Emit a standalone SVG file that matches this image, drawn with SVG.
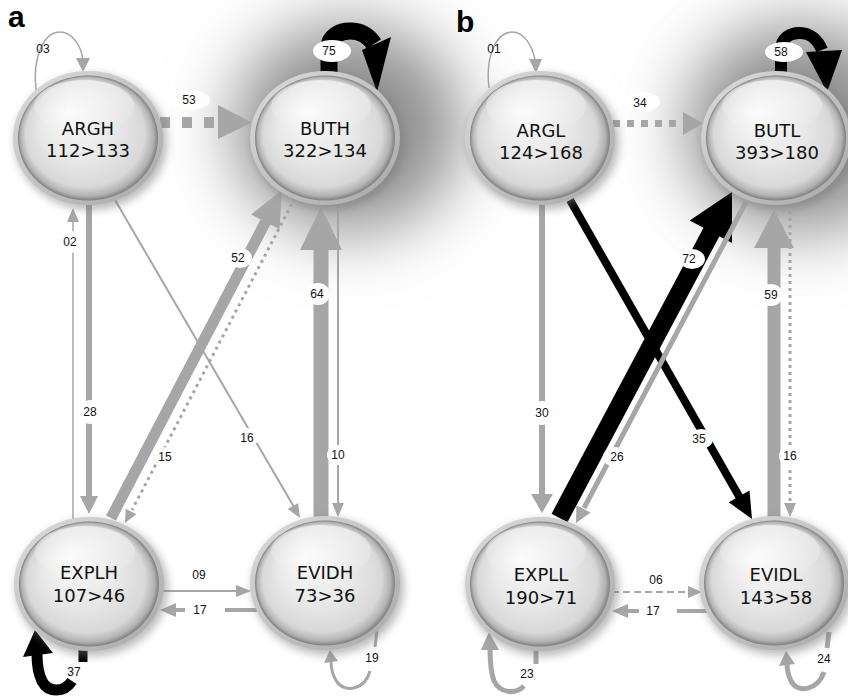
<svg xmlns="http://www.w3.org/2000/svg" width="848" height="696" viewBox="0 0 848 696">
<defs>
<style>
.g{stroke:#a6a6a6;fill:none}
.gf{fill:#a6a6a6}
.k{stroke:#000;fill:none}
.kf{fill:#000}
.bg{fill:#fff}
.lbl{font-family:"Liberation Sans",Arial,sans-serif;font-size:12px;fill:#111;text-anchor:middle}
.nt{font-family:"DejaVu Sans",Verdana,sans-serif;font-size:18px;fill:#111;text-anchor:middle}
.pl{font-family:"Liberation Sans",Arial,sans-serif;font-size:30px;font-weight:bold;fill:#000}
</style>
<filter id="glow" x="-1" y="-1" width="3" height="3"><feGaussianBlur stdDeviation="34"/></filter>
<filter id="sh" x="-0.3" y="-0.3" width="1.6" height="1.6"><feGaussianBlur stdDeviation="4"/></filter>
<linearGradient id="ring" x1="0" y1="0" x2="1" y2="1"><stop offset="0" stop-color="#dcdcdc"/><stop offset="1" stop-color="#a8a8a8"/></linearGradient>
<radialGradient id="body" cx="0.5" cy="0.5" r="0.5" fx="0.36" fy="0.28"><stop offset="0" stop-color="#fbfbfb"/><stop offset="0.55" stop-color="#e8e8e8"/><stop offset="0.85" stop-color="#d8d8d8"/><stop offset="0.95" stop-color="#b2b2b2"/><stop offset="1" stop-color="#7e7e7e"/></radialGradient>
<linearGradient id="hl" x1="0" y1="0" x2="0" y2="1"><stop offset="0" stop-color="#fff" stop-opacity="0.9"/><stop offset="1" stop-color="#fff" stop-opacity="0"/></linearGradient>
<g id="node">
<ellipse cx="3" cy="4" rx="76" ry="68" fill="#777" opacity="0.5" filter="url(#sh)"/>
<ellipse rx="75" ry="67" fill="url(#ring)"/>
<ellipse rx="70" ry="62.5" fill="url(#body)"/>
<ellipse cx="-4" cy="-32" rx="50" ry="26" fill="url(#hl)" opacity="0.6"/>
</g>
</defs>
<rect width="848" height="696" fill="#fff"/>
<g id="glows">
<ellipse cx="348" cy="128" rx="115" ry="105" fill="#8e8e8e" filter="url(#glow)"/>
<ellipse cx="800" cy="128" rx="115" ry="105" fill="#8e8e8e" filter="url(#glow)"/>
</g>
<text class="pl" x="8" y="27">a</text>
<text class="pl" x="456" y="32">b</text>
<g id="connectors">
<g id="e-argh-loop"><path class="g" stroke-width="1.5" d="M36 90 C32 55 45 32 60 32 C72 32 81 45 83 60"/><polygon class="gf" points="76,58 90,58 83,72"/><text class="lbl" x="43" y="53">03</text></g>
<g id="e-argh-buth"><line class="g" x1="160" y1="122.5" x2="218" y2="122.5" stroke-width="11" stroke-dasharray="10 12"/><polygon class="gf" points="218,105 218,139 252,122.5"/><ellipse class="bg" cx="190" cy="100" rx="20" ry="10"/><text class="lbl" x="189" y="104">53</text></g>
<g id="e-buth-loop"><path class="k" stroke-width="17" d="M329 74 L329 48 C329 36 340 31 350 31 C360 31 368 35 374 44"/><polygon class="kf" points="362,50 391,37 377,92"/><ellipse class="bg" cx="332" cy="51" rx="19" ry="11"/><text class="lbl" x="329" y="55">75</text></g>
<g id="e-argh-explh"><line class="g" x1="89" y1="205" x2="89" y2="497" stroke-width="6"/><polygon class="gf" points="80,496 98,496 89,514"/><ellipse class="bg" cx="90" cy="412" rx="10" ry="12"/><text class="lbl" x="90" y="416">28</text></g>
<g id="e-explh-argh"><line class="g" x1="73" y1="520" x2="73" y2="221" stroke-width="1.5"/><polygon class="gf" points="67,222 79,222 73,208"/><ellipse class="bg" cx="71" cy="242" rx="12" ry="11"/><text class="lbl" x="70" y="246">02</text></g>
<g id="e-argh-evidh"><line class="g" x1="115" y1="200" x2="294" y2="507" stroke-width="2"/><polygon class="gf" points="298.2,502.9 287.8,508.9 300,518"/><ellipse class="bg" cx="247" cy="438" rx="11" ry="10"/><text class="lbl" x="247" y="442">16</text></g>
<g id="e-explh-buth"><line class="g" x1="111" y1="518" x2="266" y2="221" stroke-width="11"/><polygon class="gf" points="279.5,229.3 251.1,214.5 282,190"/><ellipse class="bg" cx="240" cy="258" rx="12" ry="10"/><text class="lbl" x="238" y="262">52</text></g>
<g id="e-buth-explh"><line class="g" x1="295" y1="198" x2="132" y2="510" stroke-width="3" stroke-dasharray="3 4"/><polygon class="gf" points="136.3,514.3 125.7,508.7 125,523"/><ellipse class="bg" cx="163" cy="457" rx="11" ry="10"/><text class="lbl" x="165" y="461">15</text></g>
<g id="e-evidh-buth"><line class="g" x1="321" y1="518" x2="321" y2="249" stroke-width="15"/><polygon class="gf" points="300,250 342,250 321,207"/><ellipse class="bg" cx="318" cy="294" rx="12" ry="11"/><text class="lbl" x="317" y="298">64</text></g>
<g id="e-buth-evidh"><line class="g" x1="338" y1="203" x2="338" y2="504" stroke-width="2"/><polygon class="gf" points="332,503 344,503 338,517"/><ellipse class="bg" cx="338" cy="455" rx="11" ry="10"/><text class="lbl" x="338" y="459">10</text></g>
<g id="e-explh-evidh"><line class="g" x1="160" y1="591" x2="237" y2="591" stroke-width="2"/><polygon class="gf" points="236,585 236,597 251,591"/><text class="lbl" x="199" y="579">09</text></g>
<g id="e-evidh-explh"><line class="g" x1="257" y1="610" x2="175" y2="610" stroke-width="4"/><polygon class="gf" points="176,603 176,617 160,610"/><rect class="bg" x="185" y="602" width="40" height="16"/><text class="lbl" x="200" y="614">17</text></g>
<g id="e-explh-loop"><line class="k" x1="83" y1="648" x2="83" y2="662" stroke-width="9"/><path class="k" stroke-width="11" d="M72 681 C64 693 48 693 42 681 C38 673 37 665 37 654"/><polygon class="kf" points="23,657 53,653 35,630"/><text class="lbl" x="74" y="676">37</text></g>
<g id="e-evidh-loop"><line class="g" x1="377" y1="630" x2="375" y2="647" stroke-width="3"/><path class="g" stroke-width="3" d="M370 671 C365 690 345 693 337 682 C333 676 331 669 331 661"/><polygon class="gf" points="324,663 338,661 330,650"/><text class="lbl" x="372" y="662">19</text></g>
<g id="e-argl-loop"><path class="g" stroke-width="1.5" d="M489 88 C485 55 497 32 512 32 C524 32 532 45 535 60"/><polygon class="gf" points="529,59 542,59 536,73"/><text class="lbl" x="494" y="53">01</text></g>
<g id="e-argl-butl"><line class="g" x1="613" y1="123.5" x2="683" y2="123.5" stroke-width="7" stroke-dasharray="7 7"/><polygon class="gf" points="683,112 683,135 703,123.5"/><ellipse class="bg" cx="642" cy="102" rx="18" ry="10"/><text class="lbl" x="640" y="107">34</text></g>
<g id="e-butl-loop"><path class="k" stroke-width="12" d="M781 74 L781 50 C781 38 790 33 800 33 C810 33 818 40 822 50"/><polygon class="kf" points="806,52 842,50 827,92"/><ellipse class="bg" cx="784" cy="52" rx="19" ry="10"/><text class="lbl" x="781" y="56">58</text></g>
<g id="e-argl-expll"><line class="g" x1="542" y1="205" x2="542" y2="495" stroke-width="6"/><polygon class="gf" points="531,494 553,494 542,513"/><ellipse class="bg" cx="542" cy="413" rx="11" ry="12"/><text class="lbl" x="542" y="417">30</text></g>
<g id="e-argl-evidl"><line class="k" x1="570" y1="200" x2="740" y2="498" stroke-width="8"/><polygon class="kf" points="749.5,490.5 728.7,502.3 752,519"/><ellipse class="bg" cx="701" cy="439" rx="12" ry="10"/><text class="lbl" x="699" y="443">35</text></g>
<g id="e-expll-butl"><line class="k" x1="559.5" y1="518" x2="712" y2="231" stroke-width="18"/><polygon class="kf" points="732,243 689.7,220.4 732,192"/><ellipse class="bg" cx="692" cy="259" rx="13" ry="10"/><text class="lbl" x="689" y="263">72</text></g>
<g id="e-butl-expll"><line class="g" x1="746" y1="202" x2="584" y2="508" stroke-width="5"/><polygon class="gf" points="590.6,512.6 576.4,505.2 576,523"/><ellipse class="bg" cx="615" cy="457" rx="12" ry="10"/><text class="lbl" x="617" y="461">26</text></g>
<g id="e-evidl-butl"><line class="g" x1="774" y1="518" x2="774" y2="247" stroke-width="13"/><polygon class="gf" points="754,248 794,248 774,210"/><ellipse class="bg" cx="771" cy="295" rx="12" ry="11"/><text class="lbl" x="771" y="299">59</text></g>
<g id="e-butl-evidl"><line class="g" x1="790" y1="204" x2="790" y2="504" stroke-width="3" stroke-dasharray="3 4"/><polygon class="gf" points="784,503 796,503 790,517"/><ellipse class="bg" cx="790" cy="456" rx="11" ry="10"/><text class="lbl" x="790" y="460">16</text></g>
<g id="e-expll-evidl"><line class="g" x1="612" y1="592" x2="689" y2="592" stroke-width="2" stroke-dasharray="7 4"/><polygon class="gf" points="688,586 688,598 702,592"/><text class="lbl" x="656" y="584">06</text></g>
<g id="e-evidl-expll"><line class="g" x1="708" y1="611" x2="627" y2="611" stroke-width="4"/><polygon class="gf" points="628,604 628,618 612,611"/><rect class="bg" x="639" y="603" width="38" height="16"/><text class="lbl" x="653" y="615">17</text></g>
<g id="e-expll-loop"><line class="g" x1="536" y1="650" x2="536" y2="664" stroke-width="5"/><path class="g" stroke-width="5" d="M524 686 C515 695 500 693 494 681 C491 673 490 665 490 648"/><polygon class="gf" points="481,650 499,650 489,632"/><text class="lbl" x="527" y="678">23</text></g>
<g id="e-evidl-loop"><line class="g" x1="829" y1="632" x2="827" y2="648" stroke-width="5"/><path class="g" stroke-width="5" d="M824 672 C818 690 798 694 791 681 C788 675 787 670 787 663"/><polygon class="gf" points="779,666 795,664 786,651"/><text class="lbl" x="824" y="663">24</text></g>
</g>
<g id="ARGH"><use href="#node" x="88" y="138"/><text class="nt" x="88" y="135">ARGH</text><text class="nt" x="88" y="157">112&gt;133</text></g>
<g id="BUTH"><use href="#node" x="325" y="138"/><text class="nt" x="325" y="135">BUTH</text><text class="nt" x="325" y="157">322&gt;134</text></g>
<g id="EXPLH"><use href="#node" x="89" y="584"/><text class="nt" x="89" y="579">EXPLH</text><text class="nt" x="89" y="602">107&gt;46</text></g>
<g id="EVIDH"><use href="#node" x="325" y="583"/><text class="nt" x="325" y="579">EVIDH</text><text class="nt" x="325" y="602">73&gt;36</text></g>
<g id="ARGL"><use href="#node" x="540" y="138"/><text class="nt" x="541" y="137">ARGL</text><text class="nt" x="541" y="159">124&gt;168</text></g>
<g id="BUTL"><use href="#node" x="776" y="138"/><text class="nt" x="777" y="137">BUTL</text><text class="nt" x="777" y="159">393&gt;180</text></g>
<g id="EXPLL"><use href="#node" x="540" y="584"/><text class="nt" x="541" y="581">EXPLL</text><text class="nt" x="541" y="604">190&gt;71</text></g>
<g id="EVIDL"><use href="#node" x="774" y="583"/><text class="nt" x="776" y="581">EVIDL</text><text class="nt" x="776" y="604">143&gt;58</text></g>
</svg>
